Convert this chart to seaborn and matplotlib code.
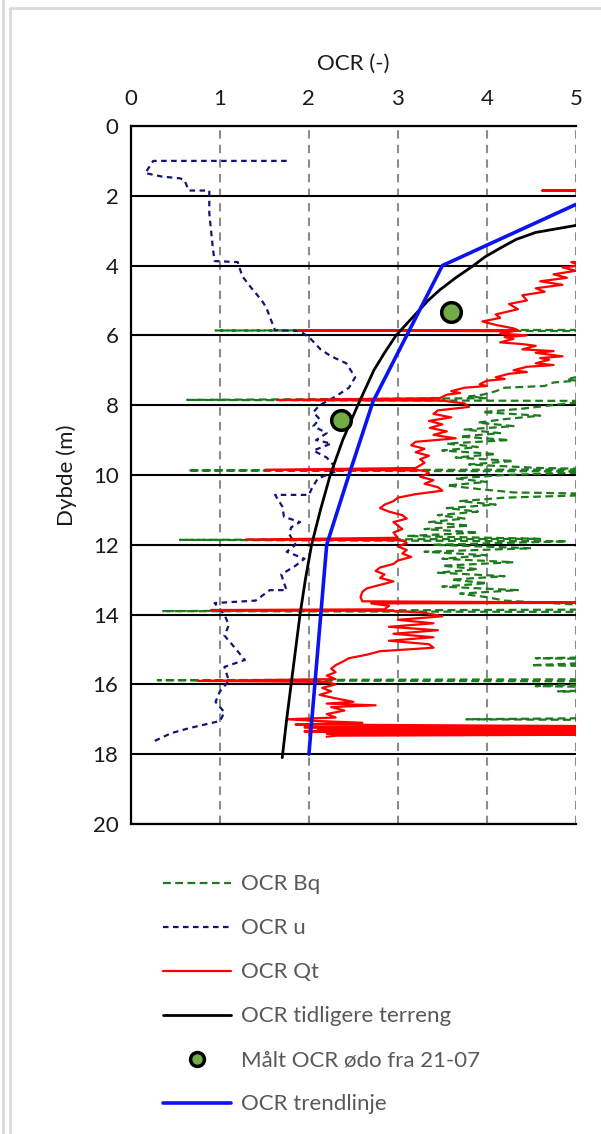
import seaborn as sns
import matplotlib.pyplot as plt
from matplotlib.lines import Line2D

# OCR u (pore pressure based) - depth (m) and OCR
u_depth = [1.0, 1.0, 1.35, 1.45, 1.5, 1.55, 1.85, 1.85, 2.5, 3.0, 3.5, 3.87, 3.9, 4.3, 4.6,
           5.0, 5.2, 5.6, 5.85, 5.87, 6.1, 6.4, 6.6, 6.8, 7.2, 7.5, 7.75, 8.0, 8.2, 8.4,
           8.6, 8.8, 9.0, 9.1, 9.3, 9.5, 9.7, 9.9, 10.1, 10.4, 10.57, 10.57, 10.9, 11.2,
           11.35, 11.5, 11.7, 12.0, 12.2, 12.4, 12.6, 12.85, 13.1, 13.3, 13.3, 13.6, 13.67,
           14.0, 14.3, 14.6, 14.9, 15.3, 15.5, 15.9, 16.2, 16.5, 16.8, 17.05, 17.25, 17.4, 17.64]
u_ocr = [1.75, 0.25, 0.16, 0.35, 0.55, 0.6, 0.65, 0.88, 0.88, 0.9, 0.92, 0.94, 1.2, 1.25, 1.34,
         1.47, 1.52, 1.58, 1.62, 1.9, 2.02, 2.13, 2.25, 2.42, 2.52, 2.45, 2.3, 2.12, 2.05, 2.12,
         2.05, 2.2, 2.08, 2.25, 2.05, 2.2, 2.27, 2.3, 2.1, 2.03, 2.0, 1.62, 1.7, 1.72,
         1.9, 1.8, 1.78, 1.85, 1.75, 1.95, 1.85, 1.69, 1.72, 1.75, 1.56, 1.4, 0.94,
         1.05, 1.1, 1.05, 1.15, 1.28, 1.05, 1.1, 1.0, 0.95, 1.05, 1.0, 0.66, 0.45, 0.25]

# OCR Qt (cone resistance based)
qt_depth = [1.8, 1.85, 1.87, 3.85, 3.9, 4.0, 4.05, 4.15, 4.25, 4.35, 4.45, 4.55, 4.65, 4.75,
            4.85, 5.0, 5.1, 5.25, 5.4, 5.5, 5.6, 5.7, 5.8, 5.85, 5.86, 5.88, 5.95, 6.0, 6.05,
            6.1, 6.2, 6.25, 6.3, 6.4, 6.45, 6.5, 6.6, 6.65, 6.7, 6.8, 6.85, 6.9, 7.0, 7.05,
            7.1, 7.2, 7.25, 7.3, 7.4, 7.45, 7.5, 7.6, 7.65, 7.7, 7.8,
            7.85, 7.87, 7.95, 8.05, 8.15, 8.25, 8.35, 8.45, 8.55, 8.65, 8.75, 8.85, 8.95,
            9.05, 9.15, 9.25, 9.35, 9.45, 9.55, 9.65, 9.8, 9.85, 9.87, 9.95, 10.05, 10.15,
            10.25, 10.35, 10.45, 10.55, 10.65, 10.75, 10.85, 10.95, 11.05, 11.15, 11.25,
            11.35, 11.45, 11.55, 11.65, 11.8, 11.85, 11.87, 11.95, 12.05, 12.15, 12.25,
            12.35, 12.45, 12.55, 12.65, 12.75, 12.85, 12.95, 13.05, 13.15, 13.25, 13.35,
            13.5, 13.62, 13.66, 13.68, 13.75, 13.85, 13.87, 13.89, 13.95, 14.05, 14.15,
            14.25, 14.35, 14.45, 14.55, 14.65, 14.75, 14.85, 14.95, 15.05, 15.15, 15.25,
            15.35, 15.45, 15.55, 15.65, 15.75, 15.85, 15.9, 15.93, 16.0, 16.1, 16.2, 16.3,
            16.4, 16.5, 16.55, 16.6, 16.65, 16.75, 16.85, 16.95, 17.0, 17.05, 17.1, 17.15,
            17.2, 17.23, 17.26, 17.29, 17.32, 17.35, 17.38, 17.41, 17.44, 17.47, 17.5]
qt_ocr = [6.0, 4.62, 6.0, 6.0, 4.95, 5.05, 4.85, 5.0, 4.75, 4.9, 4.6, 4.85, 4.55, 4.65,
          4.4, 4.45, 4.25, 4.35, 4.1, 4.15, 3.95, 4.1, 4.3, 4.35, 1.88, 4.3, 4.15, 4.45, 4.2,
          4.3, 4.15, 4.4, 4.55, 4.4, 4.75, 4.55, 4.85, 4.6, 4.7, 4.55, 4.75, 4.45, 4.3, 4.45,
          4.25, 4.1, 4.2, 4.0, 3.92, 4.0, 3.75, 3.6, 3.7, 3.55, 3.47,
          1.64, 3.5, 3.75, 3.8, 3.45, 3.4, 3.6, 3.35, 3.5, 3.36, 3.55, 3.4, 3.65,
          3.2, 3.15, 3.3, 3.2, 3.35, 3.25, 3.3, 3.2, 1.51, 3.3, 3.35, 3.25, 3.4,
          3.3, 3.45, 3.5, 3.2, 3.0, 2.95, 2.85, 2.8, 2.9, 3.05, 3.1,
          2.95, 3.0, 3.05, 2.95, 3.0, 1.29, 3.05, 3.1, 3.0, 3.1, 3.05,
          3.15, 3.0, 2.95, 2.8, 2.75, 2.85, 2.8, 2.95, 2.8, 2.65, 2.6,
          2.58, 2.6, 5.5, 2.7, 2.9, 2.85, 0.9, 2.9, 3.3, 3.5, 3.0,
          3.4, 2.9, 3.45, 2.95, 3.4, 2.9, 3.35, 3.4, 2.8, 2.65, 2.45,
          2.38, 2.3, 2.25, 2.3, 2.2, 2.3, 0.75, 2.2, 2.3, 2.15, 2.25, 2.12,
          2.3, 2.5, 2.2, 2.75, 2.25, 2.4, 2.2, 2.3, 1.75, 2.1, 2.6, 1.85,
          5.5, 1.95, 5.5, 2.1, 5.5, 1.95, 5.5, 2.2, 5.5, 2.3, 2.2]

# OCR Bq (pore pressure ratio based)
bq_depth = [5.84, 5.86, 5.88, 7.1, 7.2, 7.25, 7.3, 7.35, 7.45, 7.5, 7.6, 7.7, 7.75, 7.8,
            7.85, 7.88, 7.95, 8.1, 8.2, 8.3, 8.4, 8.5, 8.6, 8.7, 8.8, 8.9, 9.0, 9.1, 9.2,
            9.3, 9.4, 9.5, 9.6, 9.7, 9.8, 9.84, 9.87, 9.9, 10.0, 10.1, 10.2, 10.3, 10.4,
            10.5, 10.55, 10.65, 10.75, 10.85, 10.95, 11.05, 11.15, 11.25, 11.35, 11.45,
            11.55, 11.65, 11.75, 11.83, 11.86, 11.9, 12.0, 12.1, 12.2, 12.3, 12.4, 12.5,
            12.6, 12.7, 12.8, 12.9, 13.0, 13.1, 13.2, 13.3, 13.4, 13.5, 13.6, 13.85, 13.9,
            13.93, 15.2, 15.25, 15.3, 15.45, 15.5, 15.85, 15.88, 15.92, 16.05, 16.1, 16.2,
            16.25, 16.95, 17.0, 17.03, 17.5]
bq_ocr = [6.0, 0.95, 6.0, 6.0, 5.0, 4.9, 5.0, 4.75, 4.65, 4.2, 4.1, 3.95, 3.8, 4.0,
          0.63, 5.5, 4.9, 4.4, 3.95, 4.6, 4.2, 3.9, 4.3, 3.75, 4.15, 3.7, 4.25, 3.55, 3.9,
          3.5, 4.1, 3.65, 4.3, 3.8, 4.6, 5.5, 0.64, 5.5, 4.2, 3.65, 4.0, 3.55, 3.9,
          4.3, 5.5, 4.2, 3.7, 4.1, 3.55, 3.9, 3.45, 3.75, 3.35, 3.8,
          3.3, 3.9, 3.1, 4.6, 0.55, 4.9, 3.4, 4.5, 3.3, 4.0, 3.5, 4.3,
          3.5, 3.9, 3.45, 4.2, 3.6, 4.0, 3.5, 4.35, 3.7, 4.0, 4.2, 6.0, 0.35,
          6.0, 6.0, 4.55, 6.0, 4.5, 6.0, 6.0, 0.3, 6.0, 4.55, 6.0, 4.8,
          6.0, 6.0, 3.77, 6.0, 6.0]

# OCR tidligere terreng
old_depth = [2.85, 3.05, 3.25, 3.5, 3.75, 4.0, 4.35, 4.7, 5.0, 5.5, 6.0, 6.5, 7.0, 8.0,
             9.0, 10.0, 11.0, 12.0, 13.0, 14.0, 15.0, 16.0, 17.0, 18.1]
old_ocr = [5.0, 4.55, 4.33, 4.15, 3.98, 3.85, 3.65, 3.47, 3.34, 3.16, 2.98, 2.85, 2.73, 2.55,
           2.38, 2.24, 2.13, 2.03, 1.96, 1.9, 1.85, 1.8, 1.75, 1.7]

# OCR trendlinje
trend_depth = [2.25, 4.0, 7.9, 10.0, 12.0, 18.0]
trend_ocr = [5.0, 3.5, 2.72, 2.45, 2.2, 2.0]

# Målt OCR ødo fra 21-07
odo_depth = [5.32, 8.42]
odo_ocr = [3.6, 2.36]

sns.set_style("white")
plt.rcParams["font.family"] = ["Lato", "DejaVu Sans"]

fig = plt.figure(figsize=(6.01, 11.34), dpi=100)
ax = fig.add_axes([0.218, 0.2734, 0.740, 0.6155])

green = "#1E7A1E"
navy = "#141478"
red = "#FF0000"
blue = "#0A14F0"
fs = 16

sns.lineplot(x=bq_ocr, y=bq_depth, sort=False, estimator=None, ax=ax, color=green,
             lw=1.6, linestyle=(0, (3.5, 2)))
sns.lineplot(x=u_ocr, y=u_depth, sort=False, estimator=None, ax=ax, color=navy,
             lw=1.6, linestyle=(0, (2.5, 2)))
sns.lineplot(x=qt_ocr, y=qt_depth, sort=False, estimator=None, ax=ax, color=red, lw=1.6)
sns.lineplot(x=old_ocr, y=old_depth, sort=False, estimator=None, ax=ax, color="black", lw=2)
sns.lineplot(x=trend_ocr, y=trend_depth, sort=False, estimator=None, ax=ax, color=blue, lw=2.6)
sns.scatterplot(x=odo_ocr, y=odo_depth, ax=ax, s=200, color="#70AD47", edgecolor="black",
                linewidth=2.5, zorder=5)

ax.set_xlim(0, 5)
ax.set_ylim(20, 0)
ax.set_xticks(range(0, 6))
ax.set_yticks(range(0, 21, 2))
ax.xaxis.tick_top()
ax.xaxis.set_label_position("top")
ax.tick_params(length=0, labelsize=fs, colors="#1a1a1a")
ax.tick_params(axis="x", pad=12)
ax.tick_params(axis="y", pad=9)
ax.set_xlabel("OCR (-)", fontsize=fs, color="#1a1a1a", labelpad=14)
ax.set_ylabel("Dybde (m)", fontsize=fs, color="#1a1a1a", labelpad=11)

ax.set_axisbelow(True)
ax.yaxis.grid(True, color="black", lw=1.5)
ax.xaxis.grid(True, color="#8C8C8C", lw=1.5, linestyle=(0, (4, 3)))
for side in ["top", "left", "bottom"]:
    ax.spines[side].set_color("black")
    ax.spines[side].set_linewidth(1.6)
ax.spines["right"].set_visible(False)

handles = [
    Line2D([], [], color=green, lw=1.6, linestyle=(0, (3.5, 2))),
    Line2D([], [], color=navy, lw=1.6, linestyle=(0, (2.5, 2))),
    Line2D([], [], color=red, lw=1.6),
    Line2D([], [], color="black", lw=2),
    Line2D([], [], ls="none", marker="o", markersize=10, markerfacecolor="#70AD47",
           markeredgecolor="black", markeredgewidth=2.5),
    Line2D([], [], color=blue, lw=2.6),
]
labels = ["OCR Bq", "OCR u", "OCR Qt", "OCR tidligere terreng",
          "Målt OCR ødo fra 21-07", "OCR trendlinje"]
leg = ax.legend(handles, labels, loc="upper left", bbox_to_anchor=(0.271, 0.229),
                bbox_transform=fig.transFigure, frameon=False, fontsize=fs,
                handlelength=3.05, handletextpad=0.45, labelspacing=1.08,
                borderpad=0, borderaxespad=0)
for t in leg.get_texts():
    t.set_color("#595959")

# chart frame
fig.add_artist(Line2D([3 / 601, 3 / 601], [0, 1], color="#D9D9D9", lw=2))
fig.add_artist(Line2D([9.5 / 601, 9.5 / 601], [0, 1 - 7.5 / 1134], color="#D9D9D9", lw=2))
fig.add_artist(Line2D([9.5 / 601, 1], [1 - 7.5 / 1134, 1 - 7.5 / 1134], color="#D9D9D9", lw=2))

fig.savefig("out.png", dpi=100, facecolor="white")
